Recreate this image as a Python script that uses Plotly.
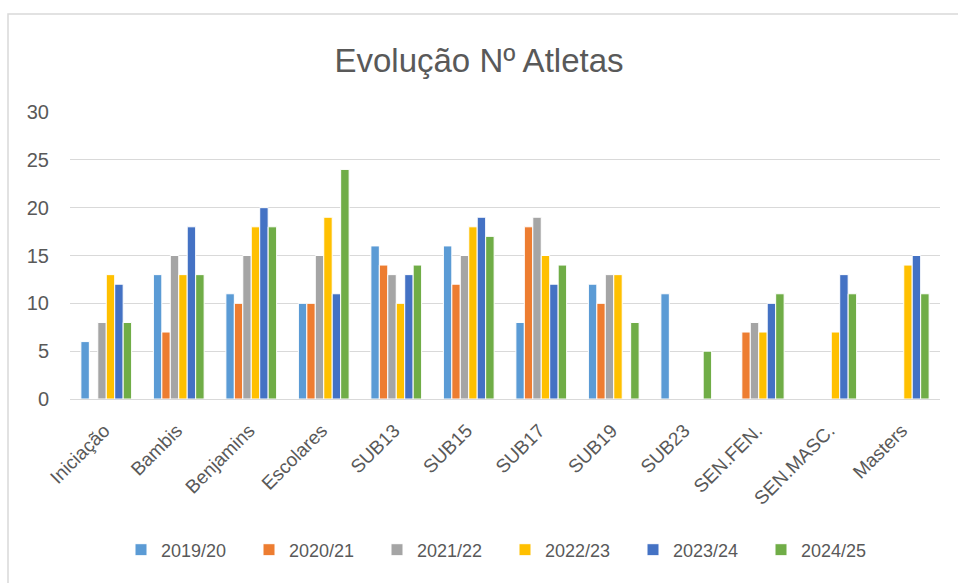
import plotly.graph_objects as go

categories = ["Iniciação", "Bambis", "Benjamins", "Escolares", "SUB13", "SUB15",
              "SUB17", "SUB19", "SUB23", "SEN.FEN.", "SEN.MASC.", "Masters"]
seasons = ["2019/20", "2020/21", "2021/22", "2022/23", "2023/24", "2024/25"]
colors = ["#5B9BD5", "#ED7D31", "#A5A5A5", "#FFC000", "#4472C4", "#70AD47"]

v2019_20 = [6, 13, 11, 10, 16, 16, 8, 12, 11, None, None, None]
v2020_21 = [None, 7, 10, 10, 14, 12, 18, 10, None, 7, None, None]
v2021_22 = [8, 15, 15, 15, 13, 15, 19, 13, None, 8, None, None]
v2022_23 = [13, 13, 18, 19, 10, 18, 15, 13, None, 7, 7, 14]
v2023_24 = [12, 18, 20, 11, 13, 19, 12, None, None, 10, 13, 15]
v2024_25 = [8, 13, 18, 24, 14, 17, 14, 8, 5, 11, 11, 11]
series = [v2019_20, v2020_21, v2021_22, v2022_23, v2023_24, v2024_25]

W, H = 958, 583
L, R, T, B = 70, 18, 112, 184
pw, ph = W - L - R, H - T - B

fig = go.Figure()
for name, vals, c in zip(seasons, series, colors):
    fig.add_trace(go.Bar(x=categories, y=vals, name=name,
                         marker=dict(color=c, line=dict(color="white", width=1))))

def px(x):
    return (x - L) / pw

def py(y):
    return (H - B - y) / ph

fig.update_layout(
    width=W, height=H,
    margin=dict(l=L, r=R, t=T, b=B, autoexpand=False),
    paper_bgcolor="white", plot_bgcolor="white",
    font=dict(family="Liberation Sans", color="#595959", size=18),
    title=dict(text="Evolução Nº Atletas", x=0.5, xanchor="center",
               y=1 - 60 / H, yanchor="middle",
               font=dict(size=33, color="#595959")),
    barmode="group", bargap=0.3, bargroupgap=0.0,
    showlegend=True,
    legend=dict(orientation="h", x=0.5, xanchor="center", y=py(550), yanchor="middle",
                font=dict(size=18, color="#595959"), traceorder="normal",
                itemwidth=30, entrywidth=83),
    xaxis=dict(tickangle=-45, showgrid=False, showline=True, linecolor="#d9d9d9",
               ticks="", automargin=False, ticklabelstandoff=12, ticklabelshift=-2,
               tickfont=dict(size=19, color="#595959")),
    yaxis=dict(range=[0, 30], dtick=5, showgrid=True, gridcolor="#d9d9d9",
               zeroline=False, showline=False, ticks="", automargin=False,
               ticklabelstandoff=20,
               tickfont=dict(size=20, color="#595959")),
    shapes=[dict(type="rect", xref="paper", yref="paper",
                 x0=px(8), x1=px(975), y0=py(600), y1=py(14),
                 line=dict(color="#d9d9d9", width=1.5), fillcolor="rgba(0,0,0,0)",
                 layer="below")],
)

fig.write_html("out.html", config={"displayModeBar": False},
               post_script="document.body.style.margin='0px';")
